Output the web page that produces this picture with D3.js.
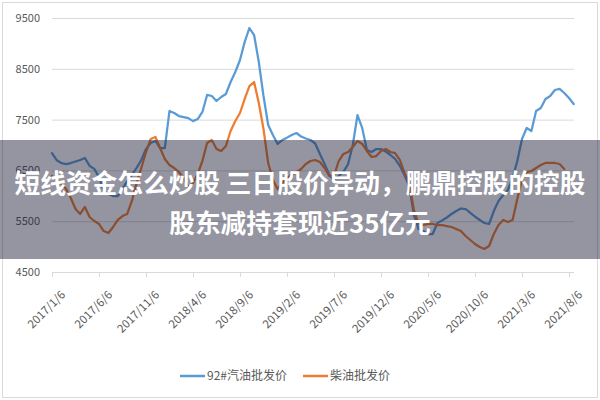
<!DOCTYPE html>
<html>
<head>
<meta charset="utf-8">
<script src="https://cdn.jsdelivr.net/npm/d3@7"></script>
<style>
  body { margin: 0; background: #fff; }
  svg { display: block; }
</style>
</head>
<body>
<div id="chart"></div>
<script>
// dimensions
width = 600
height = 400
margin = ({top: 18, bottom: 128, left: 52, right: 26})

// x labels, one every 10 points (points are half a month apart)
xLabels = ["2017/1/6", "2017/6/6", "2017/11/6", "2018/4/6", "2018/9/6", "2019/2/6",
           "2019/7/6", "2019/12/6", "2020/5/6", "2020/10/6", "2021/3/6", "2021/8/6"]
yTicks = [4500, 5500, 6500, 7500, 8500, 9500]

seriesNames = ["92#汽油批发价", "柴油批发价"]
seriesColors = ["#5b9bd5", "#ed7d31"]

// 92# gasoline wholesale price
gasoline = [6840, 6700, 6645, 6625, 6645, 6675, 6705, 6745, 6590, 6530,
            6370, 6095, 6035, 5995, 5995, 6135, 6290, 6410, 6550, 6705,
            6920, 7040, 7080, 6940, 6940, 7670, 7630, 7570, 7550, 7530,
            7470, 7510, 7650, 7985, 7965, 7866, 7945, 8004, 8240, 8437,
            8673, 9030, 9303, 9165, 8634, 7965, 7394, 7197, 7020, 7098,
            7145, 7197, 7236, 7167, 7128, 7098, 7030, 6823, 6625, 6410,
            6311, 6390, 6470, 6625, 7000, 7590, 7335, 6900, 6862, 6920,
            6920, 6872, 6803, 6725, 6590, 6410, 6193, 5620, 5346, 5307,
            5248, 5248, 5465, 5514, 5573, 5642, 5700, 5750, 5740, 5662,
            5592, 5524, 5465, 5445, 5700, 5898, 6016, 6114, 6350, 6685,
            7118, 7335, 7276, 7670, 7728, 7905, 7965, 8083, 8103, 8024,
            7925, 7807]

// diesel wholesale price
diesel = [6390, 6311, 6232, 6134, 5957, 5740, 5642, 5780, 5583, 5504,
          5445, 5307, 5268, 5386, 5524, 5602, 5642, 5898, 6252, 6547,
          6862, 7118, 7158, 6940, 6724, 6606, 6547, 6468, 6350, 6173,
          6252, 6429, 6685, 7040, 7098, 6922, 6882, 6980, 7276, 7473,
          7630, 7906, 8160, 8240, 7827, 7315, 6645, 6311, 6134, 6252,
          6350, 6410, 6468, 6527, 6626, 6685, 6705, 6665, 6547, 6390,
          6390, 6685, 6823, 6862, 6960, 7080, 7020, 6882, 6764, 6783,
          6882, 6922, 6862, 6842, 6705, 6450, 6252, 5720, 5445, 5425,
          5445, 5445, 5425, 5425, 5405, 5386, 5346, 5307, 5209, 5130,
          5051, 4992, 4953, 5012, 5248, 5425, 5524, 5484, 5524, 5937,
          6311, 6468, 6488, 6547, 6606, 6646, 6646, 6646, 6626, 6527]

titleLines = ["短线资金怎么炒股 三日股价异动，鹏鼎控股的控股", "股东减持套现近35亿元"]

const font = "'Noto Sans CJK SC', 'Noto Sans', sans-serif"
const textColor = "#595959"
const gridColor = "#d9d9d9"

// scales
x = d3.scaleLinear()
    .domain([0, (xLabels.length - 1) * 10])
    .range([margin.left, 569])

y = d3.scaleLinear()
    .domain([yTicks[0], yTicks[yTicks.length - 1]])
    .range([height - margin.bottom, margin.top])

const svg = d3.select("#chart")
    .append("svg")
    .attr("width", width)
    .attr("height", height)
    .style("font-family", font)

// chart frame
svg.append("rect")
    .attr("x", 2.5).attr("y", 2.5)
    .attr("width", 595).attr("height", 395)
    .attr("fill", "#fff")
    .attr("stroke", gridColor)

// y axis with gridlines
const yAxis = d3.axisLeft(y)
    .tickValues(yTicks)
    .tickSize(-(width - margin.right - margin.left))
    .tickPadding(12)
    .tickFormat(d3.format("d"))

svg.append("g")
    .attr("transform", `translate(${margin.left},0)`)
    .call(yAxis)
    .call(g => g.select(".domain").remove())
    .call(g => g.selectAll(".tick line").attr("stroke", gridColor))
    .call(g => g.selectAll(".tick text")
        .attr("fill", textColor)
        .style("font-size", "11px")
        .style("font-family", font))

// x axis: ticks and rotated labels
const xAxis = d3.axisBottom(x)
    .tickValues(d3.range(0, xLabels.length * 10, 10))
    .tickSize(5)
    .tickFormat((d, i) => xLabels[i])

svg.append("g")
    .attr("transform", `translate(0,${height - margin.bottom})`)
    .call(xAxis)
    .call(g => g.select(".domain").remove())
    .call(g => g.selectAll(".tick line").attr("stroke", gridColor))
    .call(g => g.selectAll(".tick text")
        .attr("fill", textColor)
        .style("font-size", "11.5px")
        .style("font-family", font)
        .attr("text-anchor", "end")
        .attr("dy", "0.35em")
        .attr("transform", "translate(5,15) rotate(-45)"))

// lines
const line = d3.line()
    .x((d, i) => x(i))
    .y(d => y(d))

svg.selectAll(".series")
    .data([gasoline, diesel])
    .join("path")
    .attr("class", "series")
    .attr("d", d => line(d))
    .attr("fill", "none")
    .attr("stroke", (d, i) => seriesColors[i])
    .attr("stroke-width", 2.25)
    .attr("stroke-linejoin", "round")
    .attr("stroke-linecap", "round")

// legend
const legend = svg.append("g")
    .selectAll("g")
    .data(seriesNames)
    .join("g")
    .attr("transform", (d, i) => `translate(${180 + i * 123},376)`)

legend.append("line")
    .attr("x1", 0).attr("x2", 25)
    .attr("stroke", (d, i) => seriesColors[i])
    .attr("stroke-width", 2.5)

legend.append("text")
    .attr("x", 27)
    .attr("dy", "0.35em")
    .attr("fill", textColor)
    .style("font-size", "12px")
    .text(d => d)

// grey banner with the headline on top
svg.append("rect")
    .attr("x", 0).attr("y", 140)
    .attr("width", width).attr("height", 119)
    .attr("fill", "rgba(25,25,50,0.46)")

svg.append("g")
    .selectAll("text")
    .data(titleLines)
    .join("text")
    .attr("x", width / 2)
    .attr("y", (d, i) => 181 + i * 40)
    .attr("text-anchor", "middle")
    .attr("dominant-baseline", "central")
    .attr("fill", "#fff")
    .attr("font-weight", 700)
    .style("font-size", "25.7px")
    .text(d => d)
</script>
</body>
</html>
